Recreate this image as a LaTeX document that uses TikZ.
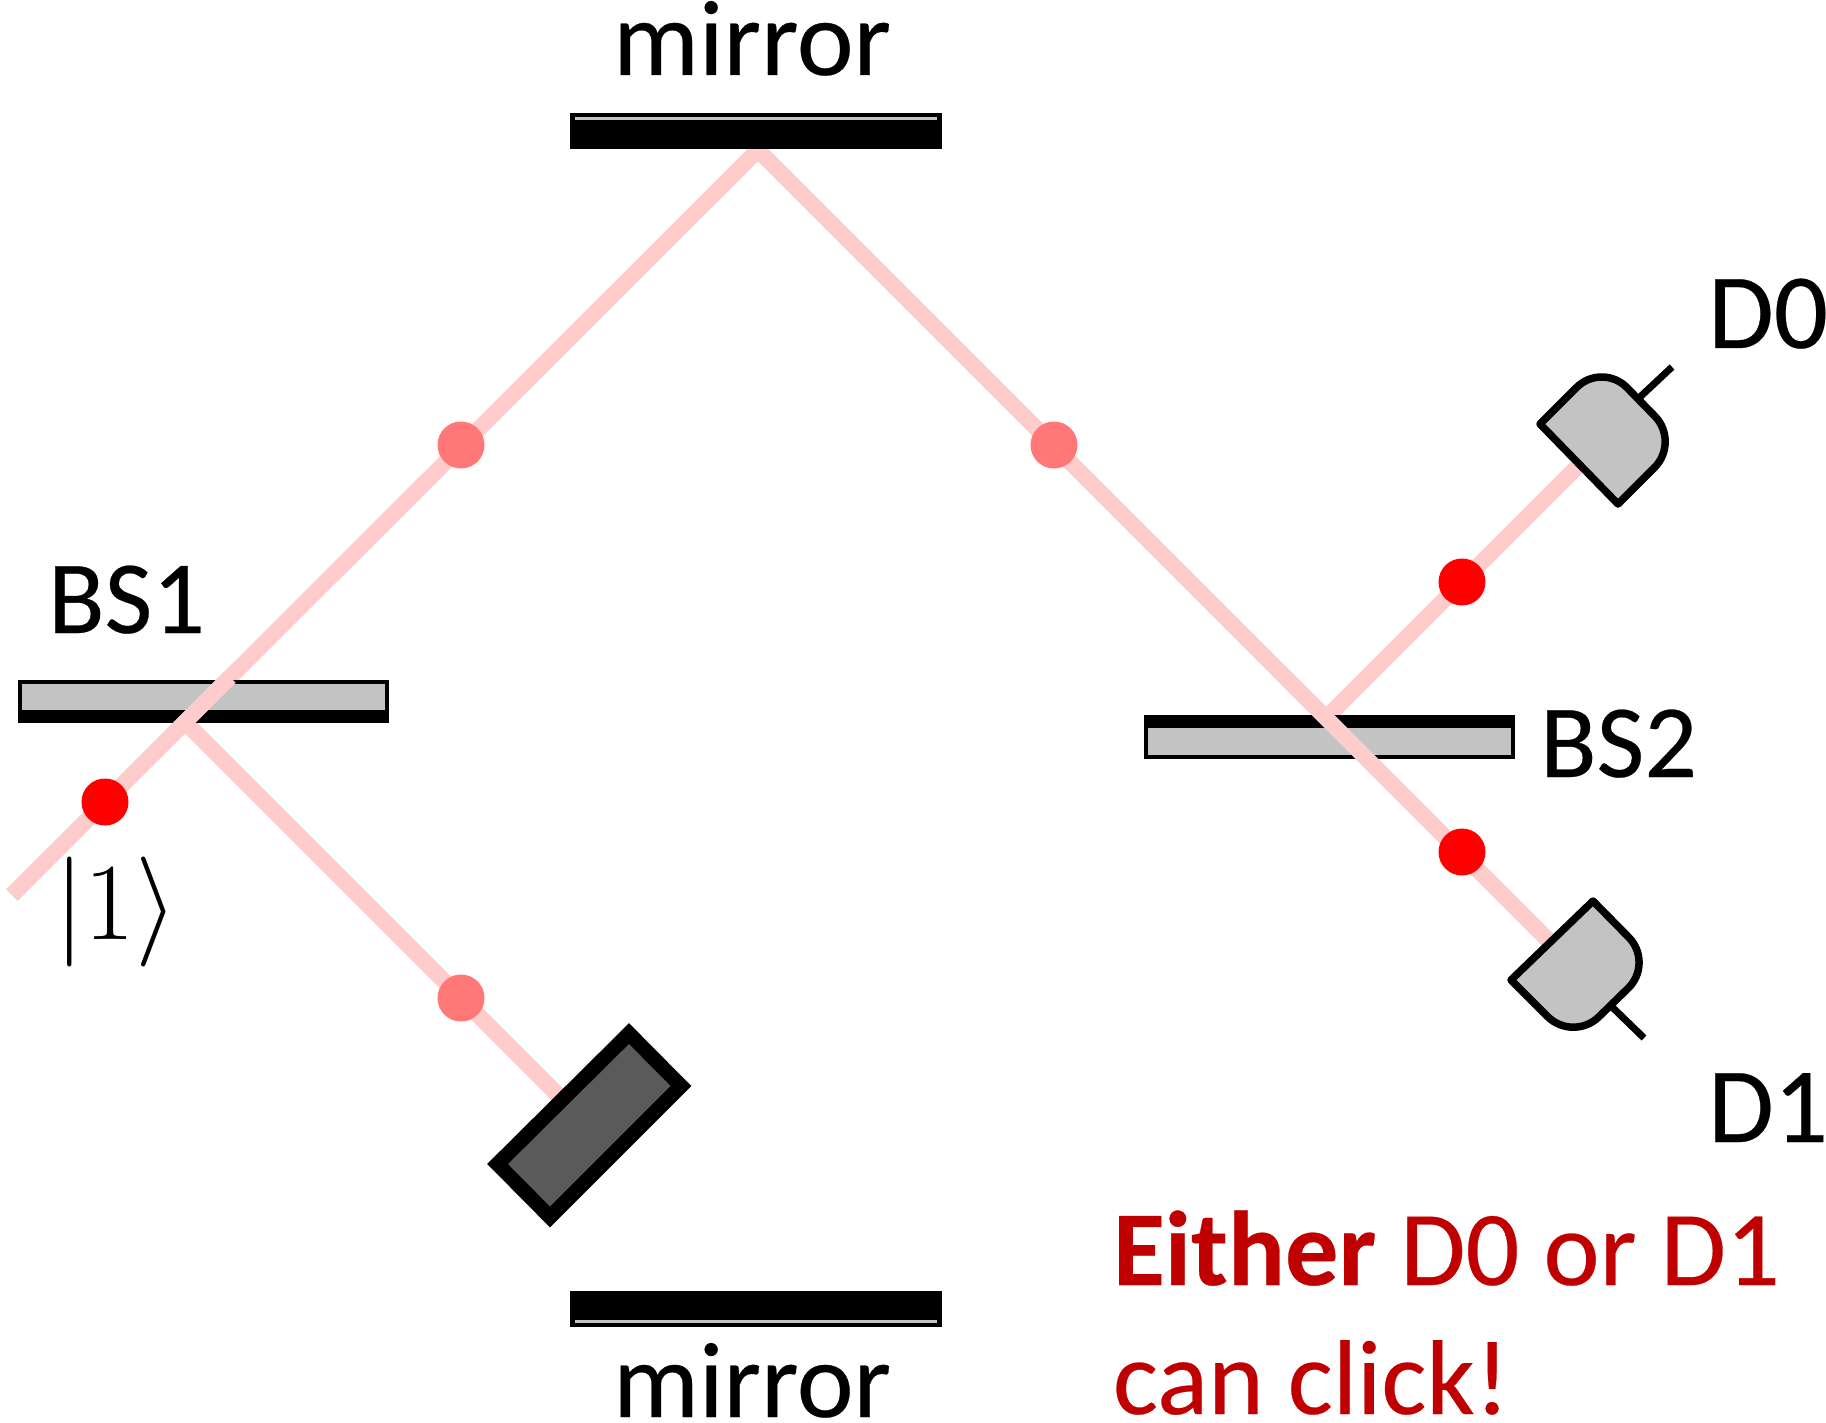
\documentclass[tikz,border=0pt]{standalone}
\usepackage{fontspec}
\setmainfont[FakeBold=0.25,BoldFeatures={FakeBold=0.25}]{Carlito}
\definecolor{beam}{HTML}{FFCCCC}
\definecolor{ghost}{HTML}{FF7777}
\definecolor{lightgrey}{HTML}{C3C3C3}
\definecolor{darkgrey}{HTML}{5A5A5A}
\definecolor{clickred}{HTML}{C00000}
\tikzset{
  beamline/.style={draw=beam,line width=16pt},
  photon/.style={circle,fill=red,minimum size=47pt,inner sep=0pt,outer sep=0pt},
  ghostphoton/.style={circle,fill=ghost,minimum size=47pt,inner sep=0pt,outer sep=0pt},
  platebox/.style={rectangle,draw=black,fill=lightgrey,line width=4pt,minimum width=367pt,minimum height=39.5pt,inner sep=0pt,outer sep=0pt},
  mirrorbox/.style={rectangle,fill=black,minimum width=372pt,minimum height=36pt,inner sep=0pt,outer sep=0pt},
  detector/.style={draw=black,fill=lightgrey,line width=7.5pt,line join=round},
  wire/.style={draw=black,line width=7pt},
  label/.style={font=\fontsize{104}{125}\selectfont,text=black,inner sep=0pt,outer sep=0pt,anchor=base west},
  largelabel/.style={font=\fontsize{107.5}{125}\selectfont,text=black,inner sep=0pt,outer sep=0pt,anchor=base},
  redlabel/.style={font=\fontsize{106.3}{125}\selectfont,text=clickred,inner sep=0pt,outer sep=0pt,anchor=base west},
}
\begin{document}
\begin{tikzpicture}[x=1pt,y=-1pt]
\useasboundingbox[fill=white] (0,0) rectangle (1826,1423);
% key points
\coordinate (source) at (12,895);
\coordinate (mtophit) at (758,150);
\coordinate (bsonehit) at (185,722);
\coordinate (bstwohit) at (1326,718);
\coordinate (boxhit) at (560,1097);
\coordinate (donehit) at (1552,944);
\coordinate (dzerohit) at (1585,459);
\coordinate (bsoneexit) at (230,677);
\coordinate (bstwoentry) at (1282,674);
% beams beneath the parts
\draw[beamline] (source) -- (mtophit);
\draw[beamline] (mtophit) -- (donehit);
\draw[beamline] (bsonehit) -- (boxhit);
\draw[beamline] (bstwohit) -- (dzerohit);
% mirrors
\node[mirrorbox] (mtop) at (756,131) {};
\fill[lightgrey] ([xshift=5pt,yshift=-4.5pt]mtop.north west) rectangle ([xshift=-5pt,yshift=-7.5pt]mtop.north east);
\node[mirrorbox] (mbot) at (756,1308.5) {};
\fill[lightgrey] ([xshift=5pt,yshift=3.5pt]mbot.south west) rectangle ([xshift=-5pt,yshift=6.5pt]mbot.south east);
% beam splitters
\node[platebox] (bsone) at (203.5,701.5) {};
\fill[black] ([xshift=-2pt,yshift=-2pt]bsone.south west) rectangle ([xshift=2pt,yshift=11pt]bsone.south east);
\node[platebox] (bstwo) at (1329.5,737) {};
\fill[black] ([xshift=-2pt,yshift=2pt]bstwo.north west) rectangle ([xshift=2pt,yshift=-11pt]bstwo.north east);
% beams drawn over the splitters
\draw[beamline] (source) -- (bsoneexit);
\draw[beamline] (bstwoentry) -- (bstwohit) -- (donehit);
% blocker
\draw[draw=black,fill=darkgrey,line width=14.6pt,line join=miter]
  (629,1033.5) -- (681,1086) -- (550,1217) -- (497.5,1164) -- cycle;
% detector D0
\draw[wire] (1640,397) -- (1672,367);
\draw[detector] (1540,424) [rounded corners=36pt] -- (1602,362) -- (1680,442) [sharp corners] -- (1618,504) -- cycle;
% detector D1
\draw[wire] (1609,1004) -- (1644,1038);
\draw[detector] (1593,901) [rounded corners=36pt] -- (1654,963) -- (1573,1042) [sharp corners] -- (1511,980) -- cycle;
% photons
\node[ghostphoton] (pa) at (461,445) {};
\node[ghostphoton] (pb) at (1054,445) {};
\node[ghostphoton] (pc) at (461,998) {};
\node[photon] (pd) at (105,802) {};
\node[photon] (pe) at (1462,582) {};
\node[photon] (pf) at (1462,852) {};
% labels
\node[largelabel] (tmirror) at (752,75) {mirror};
\node[largelabel] (bmirror) at (752,1417) {mirror};
\node[label] (lbsone) at (48,633) {BS1};
\node[label] (lbstwo) at (1540,777) {BS2};
\node[label,font=\fontsize{107}{125}\selectfont] (ldzero) at (1708,348) {D0};
\node[label,font=\fontsize{107}{125}\selectfont] (ldone) at (1708,1142) {D1};
\node[xscale=4.4,yscale=4.42,inner sep=0pt,font=\Huge] (ket) at (116,912) {$|1\rangle$};
\node[redlabel] (rone) at (1113,1285) {\textbf{Either} D0 or D1};
\node[redlabel] (rtwo) at (1113,1414) {can click!};
\end{tikzpicture}
\end{document}
